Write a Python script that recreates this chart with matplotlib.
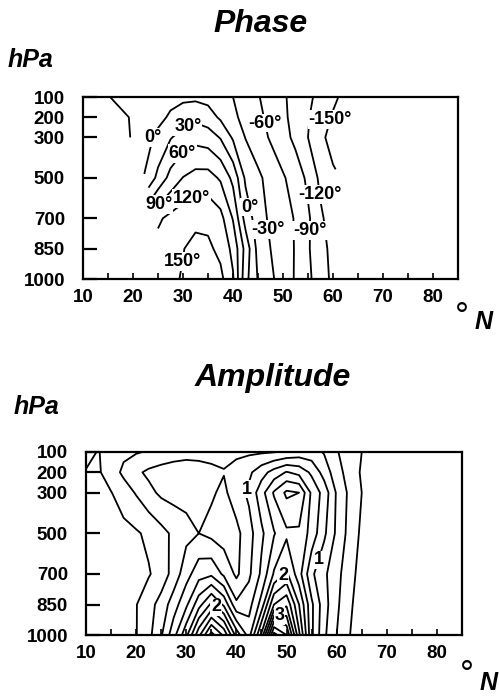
import numpy as np
import matplotlib
matplotlib.use("Agg")
import matplotlib.pyplot as plt

plt.rcParams['font.family'] = ['Liberation Sans', 'DejaVu Sans']

nan = np.nan
lat = [10, 12.5, 15, 17.5, 20, 22.5, 25, 27.5, 30, 32.5, 35, 37.5, 40, 42.5,
       45, 47.5, 50, 52.5, 55, 57.5, 60, 62.5, 65]
pres = [100, 200, 300, 500, 700, 850, 1000]
ytick_vals = [100, 200, 300, 500, 700, 850, 1000]
xtick_vals = [10, 20, 30, 40, 50, 60, 70, 80]

# Phase (degrees), rows = pressure levels, columns = latitudes
phase_100 = [-40, -35, -31, -25, -20, -15, -11, -8, -6, -6, -10, -18, -30, -44, -58, -72, -86, -100, -114, -129, -144, -158, nan]
phase_200 = [-45, -41, -38, -34, -28, -19, -8, 4, 15, 22, 14, -5, -24, -39, -53, -68, -84, -100, -118, -135, -153, -165, nan]
phase_300 = [-52, -48, -44, -37, -28, -10, 7, 28, 42, 50, 45, 28, -4, -31, -47, -63, -78, -98, -120, -145, -158, -165, nan]
phase_500 = [nan, nan, nan, nan, nan, 3, 38, 70, 91, 101, 102, 86, 52, -5, -24, -41, -57, -72, -97, -127, -146, nan, nan]
phase_700 = [nan, nan, nan, nan, nan, nan, 115, 128, 137, 143, 142, 130, 88, 18, -15, -36, -50, -62, -85, -115, -135, nan, nan]
phase_850 = [nan, nan, nan, nan, nan, nan, 130, 140, 149, 158, 156, 142, 112, 50, -10, -30, -46, -62, -87, -108, -130, nan, nan]
phase_1000 = [nan, nan, nan, nan, nan, nan, 140, 145, 152, 163, 165, 158, 123, 40, -2, -25, -42, -63, -84, -105, -127, nan, nan]
phase_levels = [-150, -120, -90, -60, -30, 0, 30, 60, 90, 120, 150]

# Amplitude, rows = pressure levels, columns = latitudes
amp_100 = [0.30, 0.24, 0.35, 0.45, 0.48, 0.52, 0.60, 0.65, 0.68, 0.68, 0.68, 0.70, 0.70, 0.71, 0.72, 0.74, 0.78, 0.85, 0.85, 0.73, 0.52, 0.38, 0.25]
amp_200 = [0.24, 0.22, 0.38, 0.55, 0.70, 0.80, 0.84, 0.86, 0.86, 0.84, 0.80, 0.76, 0.84, 0.95, 1.15, 1.35, 1.52, 1.42, 1.20, 0.90, 0.60, 0.40, 0.22]
amp_300 = [0.20, 0.22, 0.24, 0.38, 0.52, 0.68, 0.80, 0.84, 0.82, 0.80, 0.78, 0.70, 0.88, 1.05, 1.40, 1.78, 2.05, 2.00, 1.45, 1.15, 0.72, 0.45, 0.25]
amp_500 = [0.10, 0.10, 0.13, 0.17, 0.22, 0.30, 0.42, 0.55, 0.68, 0.75, 0.68, 0.62, 0.68, 0.90, 1.20, 1.48, 1.70, 1.70, 1.40, 1.05, 0.70, 0.42, 0.20]
amp_700 = [0.08, 0.10, 0.12, 0.15, 0.19, 0.23, 0.35, 0.60, 0.90, 1.15, 1.20, 0.95, 0.70, 0.95, 1.30, 1.78, 2.05, 1.60, 1.05, 0.80, 0.58, 0.35, 0.15]
amp_850 = [0.10, 0.10, 0.13, 0.18, 0.24, 0.40, 0.60, 0.88, 1.20, 1.65, 2.05, 1.70, 1.05, 1.15, 1.60, 2.50, 2.70, 2.00, 1.30, 0.85, 0.55, 0.30, 0.12]
amp_1000 = [0.10, 0.10, 0.12, 0.17, 0.24, 0.43, 0.72, 1.16, 1.68, 2.43, 3.10, 2.70, 1.90, 1.40, 2.30, 3.85, 3.50, 2.30, 1.30, 0.80, 0.50, 0.26, 0.12]
amp_levels = [0.25 * k for k in range(1, 17)]
amp_label_levels = [1.0, 2.0, 3.0]

phase = np.ma.masked_invalid(np.array([phase_100, phase_200, phase_300, phase_500,
                                       phase_700, phase_850, phase_1000], dtype=float))
amp = np.array([amp_100, amp_200, amp_300, amp_500, amp_700, amp_850, amp_1000], dtype=float)

W, H = 499, 696
fig = plt.figure(figsize=(W / 100, H / 100), dpi=100)

def style_axes(ax):
    ax.set_xlim(10, 85)
    ax.set_ylim(1000, 100)
    ax.set_yticks(ytick_vals)
    ax.set_yticklabels([str(v) for v in ytick_vals])
    ax.set_xticks(xtick_vals)
    ax.set_xticklabels([str(v) for v in xtick_vals])
    ax.set_xticks(np.arange(15, 85, 5), minor=True)
    ax.tick_params(axis='y', direction='in', length=10, width=1.6, pad=13,
                   labelsize=13.5)
    ax.tick_params(axis='x', direction='in', length=4, width=1.2, pad=7,
                   labelsize=13.5)
    ax.tick_params(axis='x', which='minor', direction='in', length=4, width=1.2)
    for lab in ax.get_xticklabels() + ax.get_yticklabels():
        lab.set_fontweight('bold')
    for s in ax.spines.values():
        s.set_linewidth(1.6)

def upright(labels):
    for t in labels:
        t.set_rotation(0)
        t.set_fontweight('bold')
        t.set_bbox(dict(facecolor='white', edgecolor='none', pad=0.6))
        t.set_zorder(5)

# ---------- Phase ----------
ax1 = fig.add_axes([83 / W, 1 - 279 / H, 375 / W, 182 / H])
cs1 = ax1.contour(lat, pres, phase, levels=phase_levels, colors='black',
                  linewidths=1.3, linestyles='solid')
ph_manual = [(24.0, 300), (31.0, 250), (30.0, 385), (25.3, 640), (31.8, 612),
             (30.2, 915), (43.8, 640), (48.3, 750), (46.3, 230),
             (55.8, 760), (57.6, 580), (59.6, 215)]
lab1 = ax1.clabel(cs1, fmt=lambda v: f"{v:.0f}°", fontsize=13, inline=False,
                  manual=ph_manual)
upright(lab1)
style_axes(ax1)

fig.text(260 / W, 1 - 24 / H, 'Phase', ha='center', va='center', fontsize=23,
         fontweight='bold', fontstyle='italic')
fig.text(8 / W, 1 - 60 / H, 'hPa', ha='left', va='center', fontsize=18,
         fontweight='bold', fontstyle='italic')
fig.text(455 / W, 1 - 318 / H, '°', ha='left', va='center', fontsize=25)
fig.text(475 / W, 1 - 322 / H, 'N', ha='left', va='center', fontsize=18,
         fontweight='bold', fontstyle='italic')

# ---------- Amplitude ----------
ax2 = fig.add_axes([86 / W, 1 - 635 / H, 376 / W, 183 / H])
other_levels = [v for v in amp_levels if v not in amp_label_levels]
ax2.contour(lat, pres, amp, levels=other_levels, colors='black',
            linewidths=1.3, linestyles='solid')
cs2 = ax2.contour(lat, pres, amp, levels=amp_label_levels, colors='black',
                  linewidths=1.3, linestyles='solid')
amp_manual = [(41.6, 275), (55.6, 620), (49.6, 720), (35.6, 880), (48.6, 900)]
lab2 = ax2.clabel(cs2, fmt=lambda v: f"{v:.0f}", fontsize=13,
                  inline=False, manual=amp_manual)
upright(lab2)
style_axes(ax2)

fig.text(273 / W, 1 - 378 / H, 'Amplitude', ha='center', va='center', fontsize=23,
         fontweight='bold', fontstyle='italic')
fig.text(14 / W, 1 - 407 / H, 'hPa', ha='left', va='center', fontsize=18,
         fontweight='bold', fontstyle='italic')
fig.text(460 / W, 1 - 675 / H, '°', ha='left', va='center', fontsize=25)
fig.text(480 / W, 1 - 683 / H, 'N', ha='left', va='center', fontsize=18,
         fontweight='bold', fontstyle='italic')

fig.savefig('out.png', dpi=100)
